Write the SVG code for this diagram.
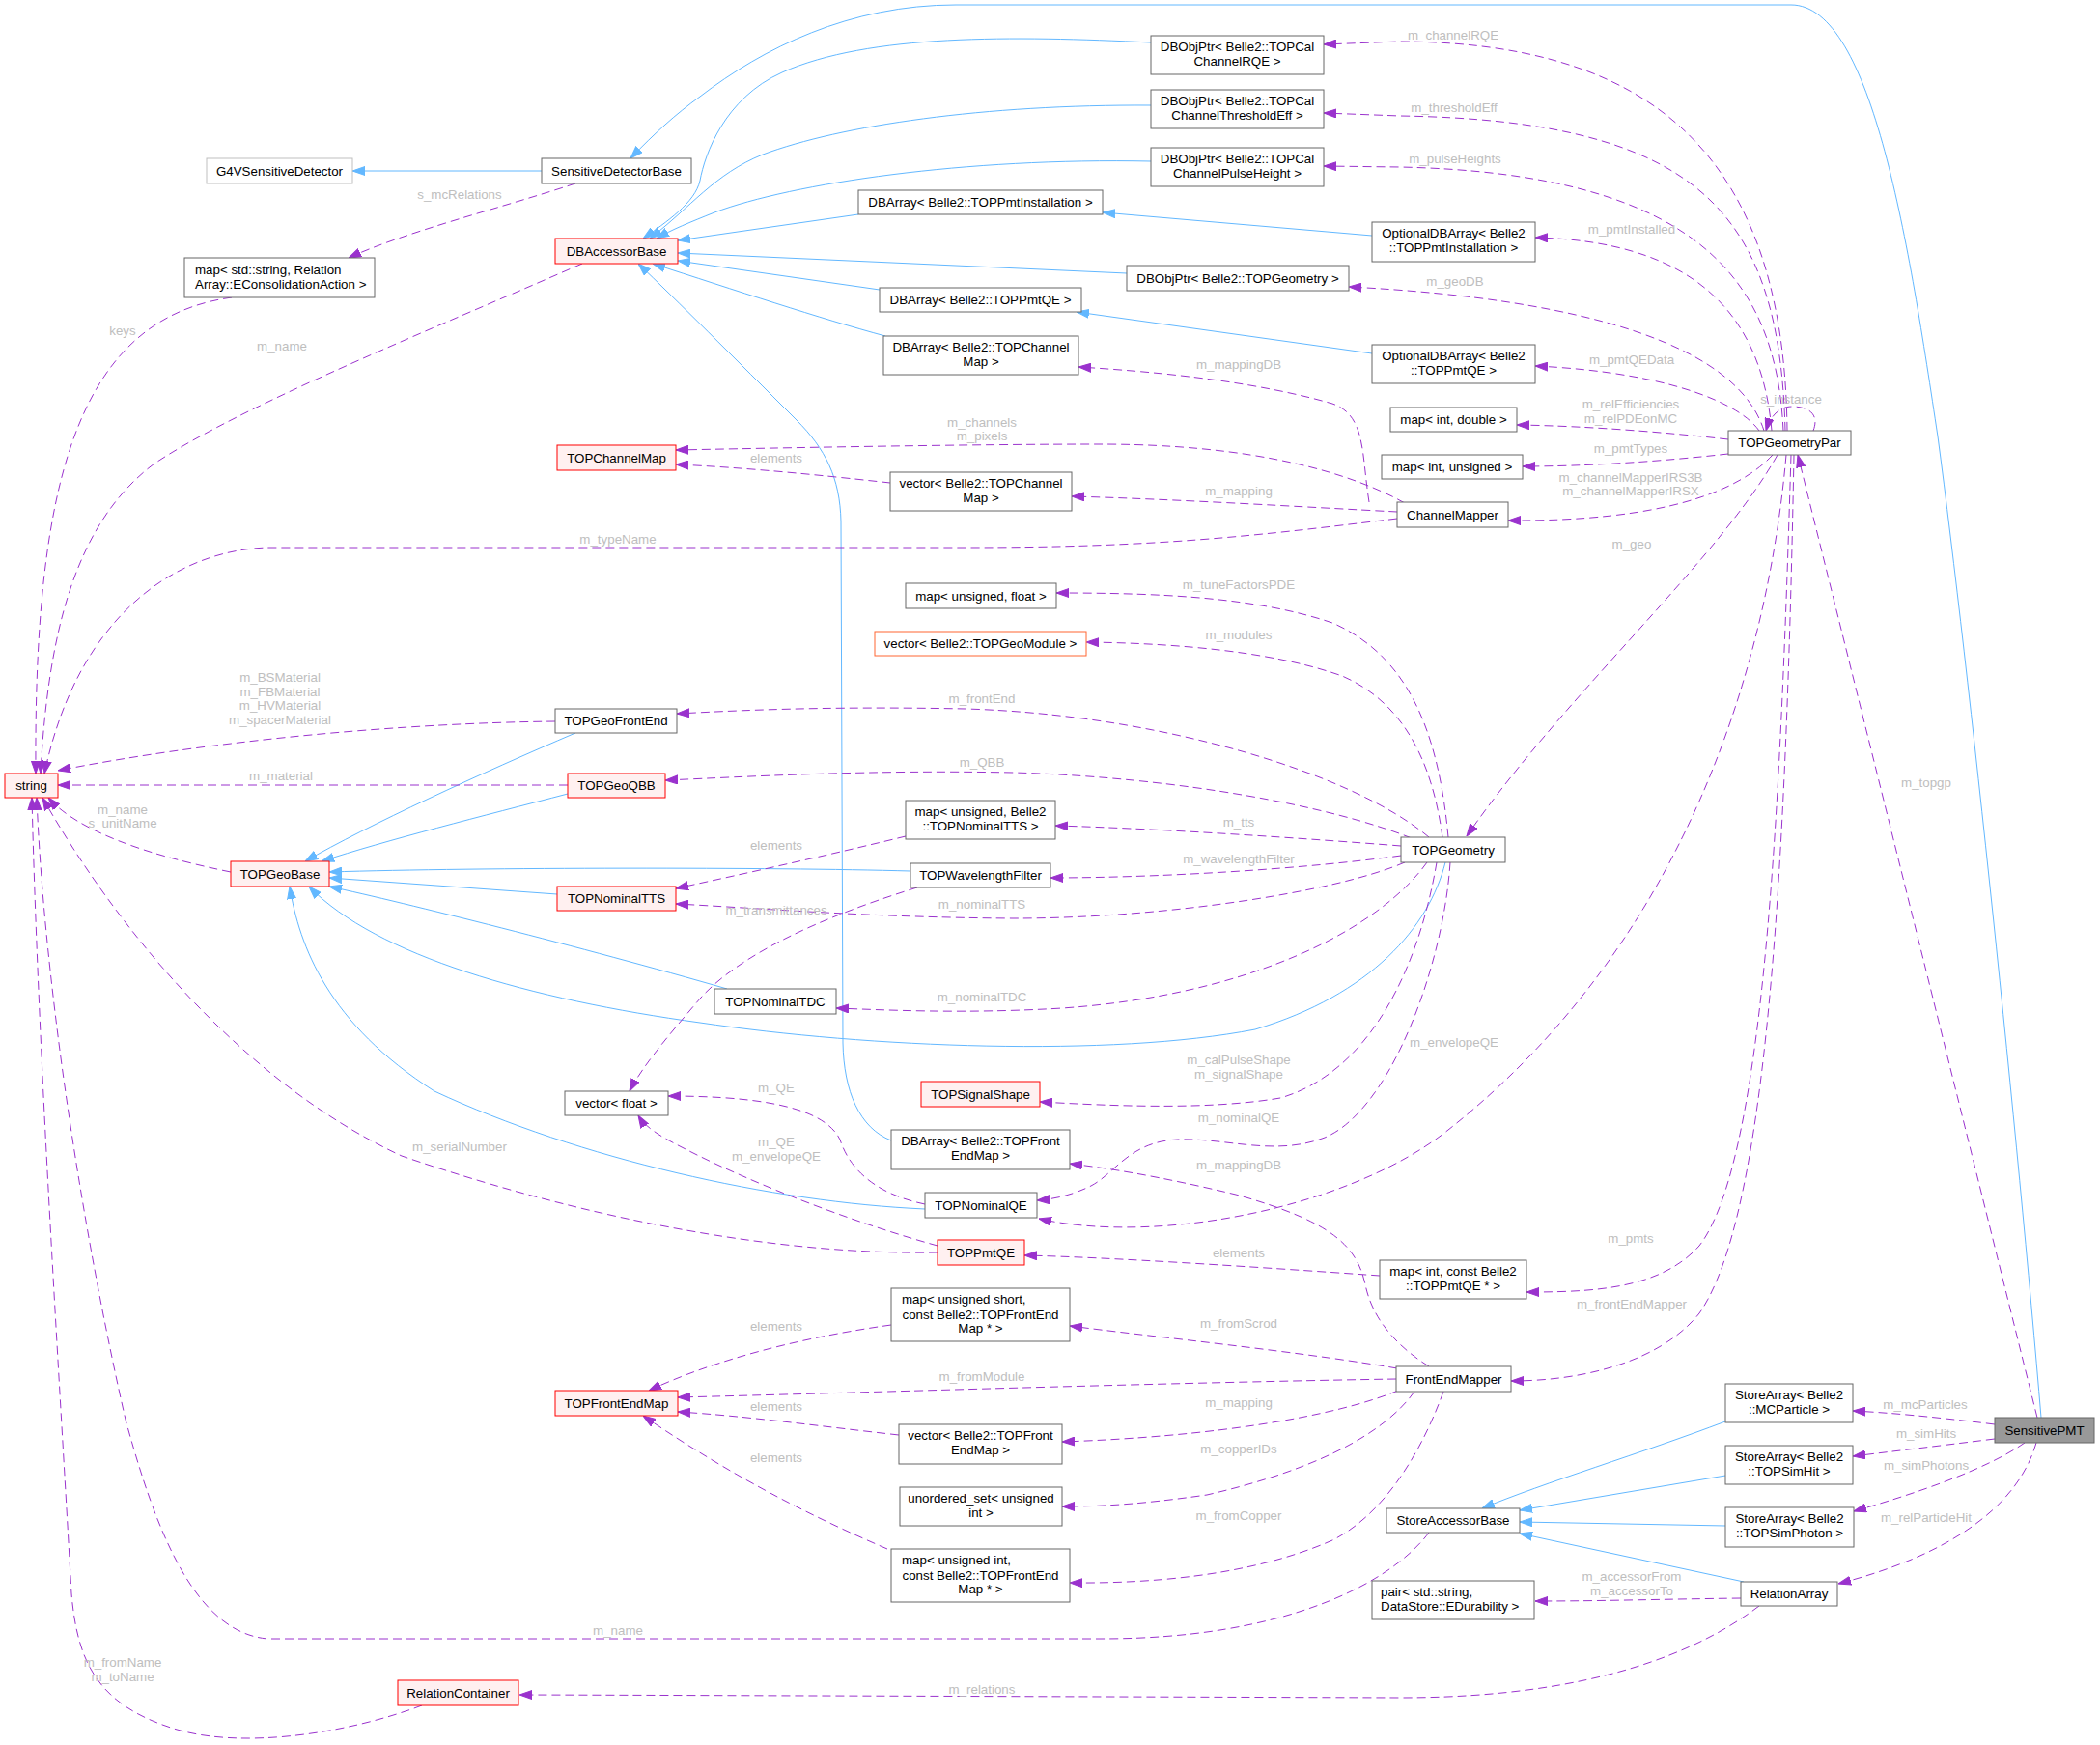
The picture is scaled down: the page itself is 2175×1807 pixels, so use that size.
<svg xmlns="http://www.w3.org/2000/svg" width="2175" height="1807" viewBox="0 0 2175 1807">
<defs>
<style>
.node rect{fill:#fff;stroke:#666;stroke-width:1}
.node.red rect{fill:#fff0f0;stroke:#ff0000}
.node.orange rect{stroke:#ff6633}
.node.light rect{stroke:#bfbfbf}
.node.cur rect{fill:#999}
text{font-family:"Liberation Sans",Arial,Helvetica,sans-serif;font-size:13.33px}
.node text{text-anchor:middle;fill:#000}
.node text.l{text-anchor:start}
.lbl{text-anchor:middle;fill:#bebebe}
.inh{fill:none;stroke:#63b8ff;stroke-width:1;marker-end:url(#ab)}
.use{fill:none;stroke:#9a32cd;stroke-width:1;stroke-dasharray:9,5;marker-end:url(#ap)}
</style>
<marker id="ap" viewBox="0 0 13 10" refX="13" refY="5" markerWidth="13" markerHeight="10" orient="auto" markerUnits="userSpaceOnUse"><path d="M0,0.5 L13,5 L0,9.5 z" fill="#9a32cd" stroke="#9a32cd" stroke-width="1"/></marker>
<marker id="ab" viewBox="0 0 13 10" refX="13" refY="5" markerWidth="13" markerHeight="10" orient="auto" markerUnits="userSpaceOnUse"><path d="M0,0.5 L13,5 L0,9.5 z" fill="#63b8ff" stroke="#63b8ff" stroke-width="1"/></marker>
</defs>
<rect width="2175" height="1807" fill="#fff"/>
<g id="connectors">
<path class="inh" d="M2114,1468 C2090,1180 2040,700 2007,452 C1978,260 1940,5 1855,5 L990,5 C880,5 790,50 725,100 C700,118 678,138 653,164"/>
<path class="inh" d="M561,177 L365,177"/>
<path class="inh" d="M1192,44 C1050,37 900,35 810,75 C750,102 730,160 725,187 C720,210 690,230 666,247"/>
<path class="inh" d="M1192,109 C1020,108 870,130 790,160 C740,180 715,215 673,247"/>
<path class="inh" d="M1192,167 C1000,163 820,190 740,220 C715,230 695,238 680,247"/>
<path class="inh" d="M889,222 L702,249"/>
<path class="inh" d="M1167,283 L702,262"/>
<path class="inh" d="M911,300 L702,270"/>
<path class="inh" d="M917,348 C850,330 760,300 676,273"/>
<path class="inh" d="M923,1181 C890,1168 874,1130 873,1080 L871,540 C870,495 855,465 825,435 C760,370 700,310 661,273"/>
<path class="inh" d="M1421,244 L1142,220"/>
<path class="inh" d="M1421,366 L1115,323"/>
<path class="inh" d="M596,759 C500,800 380,855 316,892"/>
<path class="inh" d="M588,822 C500,845 400,870 333,892"/>
<path class="inh" d="M577,926 L341,909"/>
<path class="inh" d="M943,902 C800,898 500,898 341,903"/>
<path class="inh" d="M753,1024 C600,980 420,935 341,918"/>
<path class="inh" d="M1497,893 C1480,960 1420,1030 1300,1066 C1150,1095 900,1085 725,1059 C550,1035 390,990 320,918"/>
<path class="inh" d="M958,1252 C800,1245 600,1200 450,1130 C340,1060 310,980 300,918"/>
<path class="inh" d="M1787,1472 C1700,1505 1600,1535 1535,1562"/>
<path class="inh" d="M1787,1528 L1574,1564"/>
<path class="inh" d="M1787,1580 L1574,1576"/>
<path class="inh" d="M1806,1638 L1574,1588"/>

<path class="use" d="M1851,446 C1848,150 1700,44 1450,43 L1371,46"/>
<path class="use" d="M1849,446 C1843,220 1760,125 1450,120 L1371,117"/>
<path class="use" d="M1847,446 C1840,300 1770,180 1450,173 L1371,172"/>
<path class="use" d="M1835,446 C1825,330 1760,250 1590,246"/>
<path class="use" d="M1827,446 C1800,360 1650,310 1397,297"/>
<path class="use" d="M1822,446 C1800,415 1720,385 1590,379"/>
<path class="use" d="M1790,455 C1720,447 1640,441 1571,440"/>
<path class="use" d="M1878,446 C1885,428 1872,421 1856,421 C1842,421 1833,432 1829,446"/>
<path class="use" d="M1790,470 C1720,478 1640,483 1577,483"/>
<path class="use" d="M1836,471 C1800,510 1720,540 1562,539"/>
<path class="use" d="M1841,471 C1780,580 1620,720 1519,866"/>
<path class="use" d="M1850,471 C1830,700 1740,980 1500,1170 C1400,1250 1200,1290 1076,1262"/>
<path class="use" d="M1855,471 C1845,800 1830,1200 1760,1290 C1720,1335 1650,1338 1581,1338"/>
<path class="use" d="M1858,471 C1850,900 1830,1260 1760,1360 C1720,1410 1640,1430 1565,1430"/>
<path class="use" d="M2110,1468 L1862,471"/>
<path class="use" d="M2066,1475 C2010,1468 1960,1463 1919,1461"/>
<path class="use" d="M2066,1490 C2010,1497 1960,1503 1919,1508"/>
<path class="use" d="M2097,1494 C2060,1520 1990,1545 1920,1565"/>
<path class="use" d="M2109,1494 C2090,1560 2020,1610 1904,1640"/>
<path class="use" d="M1803,1655 C1720,1656 1660,1658 1590,1658"/>
<path class="use" d="M1822,1663 C1760,1710 1650,1758 1450,1758 L538,1755"/>
<path class="use" d="M1480,1587 C1440,1640 1330,1697 1141,1697 L277,1697 C200,1690 160,1580 130,1470 C80,1250 45,1000 38,826"/>
<path class="use" d="M437,1766 C360,1795 250,1812 180,1790 C100,1765 80,1720 74,1650 C60,1400 40,1100 33,826"/>
<path class="use" d="M971,1297 C800,1300 600,1260 416,1197 C250,1120 120,960 44,826"/>
<path class="use" d="M239,903 C150,885 80,860 50,826"/>
<path class="use" d="M588,813 L60,813"/>
<path class="use" d="M575,747 C400,749 200,770 60,798"/>
<path class="use" d="M1447,537 C1300,555 1200,567 1000,567 L277,567 C180,570 80,640 46,801"/>
<path class="use" d="M603,273 C450,340 250,420 160,480 C80,540 50,650 42,801"/>
<path class="use" d="M240,308 C80,330 35,500 37,801"/>
<path class="use" d="M596,190 C520,215 420,240 361,267"/>
<path class="use" d="M1455,521 C1400,490 1300,460 1140,460 C1000,460 800,464 700,466"/>
<path class="use" d="M922,500 C850,492 770,484 700,481"/>
<path class="use" d="M1447,530 C1350,525 1220,517 1110,514"/>
<path class="use" d="M1418,520 C1410,470 1415,430 1380,418 C1300,395 1200,385 1117,380"/>
<path class="use" d="M1500,867 C1490,760 1460,680 1380,645 C1300,618 1200,614 1094,614"/>
<path class="use" d="M1494,867 C1485,800 1460,730 1390,700 C1320,675 1220,666 1125,665"/>
<path class="use" d="M1480,867 C1400,800 1200,740 1000,734 C850,731 760,736 701,739"/>
<path class="use" d="M1462,868 C1380,835 1220,805 1050,800 C900,797 780,804 689,808"/>
<path class="use" d="M1451,876 C1350,868 1200,858 1093,855"/>
<path class="use" d="M1451,886 C1350,900 1200,909 1088,909"/>
<path class="use" d="M1455,893 C1380,925 1200,951 1049,951 C900,950 780,940 700,936"/>
<path class="use" d="M1478,893 C1430,960 1300,1030 1100,1044 C1000,1050 920,1046 866,1044"/>
<path class="use" d="M1488,893 C1470,1000 1420,1110 1326,1137 C1250,1150 1150,1145 1077,1141"/>
<path class="use" d="M1502,893 C1495,1000 1440,1150 1372,1178 C1320,1198 1270,1178 1220,1180 C1170,1182 1155,1215 1130,1228 C1110,1238 1090,1242 1074,1243"/>
<path class="use" d="M958,1247 C900,1235 878,1205 870,1180 C855,1150 800,1135 692,1135"/>
<path class="use" d="M971,1290 C880,1265 780,1225 720,1195 C690,1180 670,1170 661,1155"/>
<path class="use" d="M950,919 C850,950 760,990 720,1040 C690,1075 665,1105 652,1130"/>
<path class="use" d="M938,866 C860,885 770,905 700,920"/>
<path class="use" d="M1429,1321 C1300,1312 1150,1302 1061,1300"/>
<path class="use" d="M1480,1415 C1440,1390 1420,1360 1414,1330 C1405,1290 1380,1265 1280,1237 C1200,1218 1150,1210 1108,1205"/>
<path class="use" d="M1447,1417 C1350,1400 1200,1385 1108,1373"/>
<path class="use" d="M1446,1428 C1200,1432 900,1442 702,1447"/>
<path class="use" d="M1448,1440 C1380,1468 1250,1488 1100,1493"/>
<path class="use" d="M1465,1441 C1430,1490 1350,1525 1250,1548 C1180,1558 1140,1560 1100,1560"/>
<path class="use" d="M1495,1441 C1470,1510 1430,1570 1380,1595 C1300,1630 1200,1640 1108,1639"/>
<path class="use" d="M923,1372 C830,1385 740,1408 672,1440"/>
<path class="use" d="M931,1486 C850,1477 770,1466 702,1462"/>
<path class="use" d="M919,1604 C840,1570 760,1530 666,1466"/>
<g id="edge-labels">
<text class="lbl" x="476" y="206">s_mcRelations</text>
<text class="lbl" x="127" y="347">keys</text>
<text class="lbl" x="292" y="363">m_name</text>
<text class="lbl" x="1505" y="41">m_channelRQE</text>
<text class="lbl" x="1506" y="116">m_thresholdEff</text>
<text class="lbl" x="1507" y="169">m_pulseHeights</text>
<text class="lbl" x="1690" y="242">m_pmtInstalled</text>
<text class="lbl" x="1507" y="296">m_geoDB</text>
<text class="lbl" x="1690" y="377">m_pmtQEData</text>
<text class="lbl" x="1689" y="423">m_relEfficiencies</text>
<text class="lbl" x="1689" y="438">m_relPDEonMC</text>
<text class="lbl" x="1855" y="418">s_instance</text>
<text class="lbl" x="1283" y="382">m_mappingDB</text>
<text class="lbl" x="1017" y="442">m_channels</text>
<text class="lbl" x="1017" y="456">m_pixels</text>
<text class="lbl" x="804" y="479">elements</text>
<text class="lbl" x="1283" y="513">m_mapping</text>
<text class="lbl" x="1689" y="469">m_pmtTypes</text>
<text class="lbl" x="1689" y="499">m_channelMapperIRS3B</text>
<text class="lbl" x="1689" y="513">m_channelMapperIRSX</text>
<text class="lbl" x="640" y="563">m_typeName</text>
<text class="lbl" x="1690" y="568">m_geo</text>
<text class="lbl" x="1283" y="610">m_tuneFactorsPDE</text>
<text class="lbl" x="1283" y="662">m_modules</text>
<text class="lbl" x="290" y="706">m_BSMaterial</text>
<text class="lbl" x="290" y="721">m_FBMaterial</text>
<text class="lbl" x="290" y="735">m_HVMaterial</text>
<text class="lbl" x="290" y="750">m_spacerMaterial</text>
<text class="lbl" x="1017" y="728">m_frontEnd</text>
<text class="lbl" x="1017" y="794">m_QBB</text>
<text class="lbl" x="291" y="808">m_material</text>
<text class="lbl" x="1995" y="815">m_topgp</text>
<text class="lbl" x="127" y="843">m_name</text>
<text class="lbl" x="127" y="857">s_unitName</text>
<text class="lbl" x="1283" y="856">m_tts</text>
<text class="lbl" x="804" y="880">elements</text>
<text class="lbl" x="1283" y="894">m_wavelengthFilter</text>
<text class="lbl" x="1017" y="941">m_nominalTTS</text>
<text class="lbl" x="804" y="947">m_transmittances</text>
<text class="lbl" x="1017" y="1037">m_nominalTDC</text>
<text class="lbl" x="1506" y="1084">m_envelopeQE</text>
<text class="lbl" x="1283" y="1102">m_calPulseShape</text>
<text class="lbl" x="1283" y="1117">m_signalShape</text>
<text class="lbl" x="804" y="1131">m_QE</text>
<text class="lbl" x="1283" y="1162">m_nominalQE</text>
<text class="lbl" x="804" y="1187">m_QE</text>
<text class="lbl" x="804" y="1202">m_envelopeQE</text>
<text class="lbl" x="476" y="1192">m_serialNumber</text>
<text class="lbl" x="1283" y="1211">m_mappingDB</text>
<text class="lbl" x="1689" y="1287">m_pmts</text>
<text class="lbl" x="1283" y="1302">elements</text>
<text class="lbl" x="1690" y="1355">m_frontEndMapper</text>
<text class="lbl" x="1283" y="1375">m_fromScrod</text>
<text class="lbl" x="804" y="1378">elements</text>
<text class="lbl" x="1017" y="1430">m_fromModule</text>
<text class="lbl" x="1283" y="1457">m_mapping</text>
<text class="lbl" x="1994" y="1459">m_mcParticles</text>
<text class="lbl" x="804" y="1461">elements</text>
<text class="lbl" x="1995" y="1489">m_simHits</text>
<text class="lbl" x="1283" y="1505">m_copperIDs</text>
<text class="lbl" x="804" y="1514">elements</text>
<text class="lbl" x="1995" y="1522">m_simPhotons</text>
<text class="lbl" x="1283" y="1574">m_fromCopper</text>
<text class="lbl" x="1995" y="1576">m_relParticleHit</text>
<text class="lbl" x="1690" y="1637">m_accessorFrom</text>
<text class="lbl" x="1690" y="1652">m_accessorTo</text>
<text class="lbl" x="640" y="1693">m_name</text>
<text class="lbl" x="127" y="1726">m_fromName</text>
<text class="lbl" x="127" y="1741">m_toName</text>
<text class="lbl" x="1017" y="1754">m_relations</text>
</g>
</g>
<g id="nodes">
<g id="G4VSensitiveDetector" class="node light"><rect x="214" y="164" width="151" height="26"/><text x="289.5" y="181.5">G4VSensitiveDetector</text></g>
<g id="SensitiveDetectorBase" class="node"><rect x="561" y="164" width="155" height="26"/><text x="638.5" y="181.5">SensitiveDetectorBase</text></g>
<g id="mapStringRelation" class="node"><rect x="191" y="267" width="197" height="41"/><text class="l" x="202" y="284">map&lt; std::string, Relation</text><text class="l" x="202" y="299">Array::EConsolidationAction &gt;</text></g>
<g id="DBAccessorBase" class="node red"><rect x="575" y="247" width="127" height="26"/><text x="638.5" y="264.5">DBAccessorBase</text></g>
<g id="DBObjPtrChannelRQE" class="node"><rect x="1192" y="37" width="179" height="40"/><text x="1281.5" y="53">DBObjPtr&lt; Belle2::TOPCal</text><text x="1281.5" y="68">ChannelRQE &gt;</text></g>
<g id="DBObjPtrChannelThresholdEff" class="node"><rect x="1192" y="93" width="179" height="40"/><text x="1281.5" y="109">DBObjPtr&lt; Belle2::TOPCal</text><text x="1281.5" y="124">ChannelThresholdEff &gt;</text></g>
<g id="DBObjPtrChannelPulseHeight" class="node"><rect x="1192" y="153" width="179" height="40"/><text x="1281.5" y="169">DBObjPtr&lt; Belle2::TOPCal</text><text x="1281.5" y="184">ChannelPulseHeight &gt;</text></g>
<g id="DBArrayPmtInstallation" class="node"><rect x="889" y="197" width="253" height="25"/><text x="1015.5" y="214">DBArray&lt; Belle2::TOPPmtInstallation &gt;</text></g>
<g id="OptionalDBArrayPmtInstallation" class="node"><rect x="1421" y="230" width="169" height="41"/><text x="1505.5" y="246">OptionalDBArray&lt; Belle2</text><text x="1505.5" y="261">::TOPPmtInstallation &gt;</text></g>
<g id="DBObjPtrTOPGeometry" class="node"><rect x="1167" y="275" width="230" height="26"/><text x="1282" y="292.5">DBObjPtr&lt; Belle2::TOPGeometry &gt;</text></g>
<g id="DBArrayPmtQE" class="node"><rect x="911" y="298" width="209" height="25"/><text x="1015.5" y="315">DBArray&lt; Belle2::TOPPmtQE &gt;</text></g>
<g id="DBArrayChannelMap" class="node"><rect x="915" y="348" width="202" height="40"/><text x="1016" y="364">DBArray&lt; Belle2::TOPChannel</text><text x="1016" y="379">Map &gt;</text></g>
<g id="OptionalDBArrayPmtQE" class="node"><rect x="1421" y="357" width="169" height="40"/><text x="1505.5" y="373">OptionalDBArray&lt; Belle2</text><text x="1505.5" y="388">::TOPPmtQE &gt;</text></g>
<g id="mapIntDouble" class="node"><rect x="1440" y="422" width="131" height="25"/><text x="1505.5" y="439">map&lt; int, double &gt;</text></g>
<g id="TOPGeometryPar" class="node"><rect x="1790" y="446" width="127" height="25"/><text x="1853.5" y="463">TOPGeometryPar</text></g>
<g id="TOPChannelMap" class="node red"><rect x="577" y="461" width="123" height="26"/><text x="638.5" y="478.5">TOPChannelMap</text></g>
<g id="mapIntUnsigned" class="node"><rect x="1431" y="471" width="146" height="25"/><text x="1504" y="488">map&lt; int, unsigned &gt;</text></g>
<g id="vectorChannelMap" class="node"><rect x="922" y="489" width="188" height="40"/><text x="1016" y="505">vector&lt; Belle2::TOPChannel</text><text x="1016" y="520">Map &gt;</text></g>
<g id="ChannelMapper" class="node"><rect x="1447" y="520" width="115" height="26"/><text x="1504.5" y="537.5">ChannelMapper</text></g>
<g id="mapUnsignedFloat" class="node"><rect x="938" y="604" width="156" height="26"/><text x="1016" y="621.5">map&lt; unsigned, float &gt;</text></g>
<g id="vectorGeoModule" class="node orange"><rect x="906" y="654" width="219" height="25"/><text x="1015.5" y="671">vector&lt; Belle2::TOPGeoModule &gt;</text></g>
<g id="TOPGeoFrontEnd" class="node"><rect x="575" y="734" width="126" height="25"/><text x="638" y="751">TOPGeoFrontEnd</text></g>
<g id="string" class="node red"><rect x="5" y="801" width="55" height="25"/><text x="32.5" y="818">string</text></g>
<g id="TOPGeoQBB" class="node red"><rect x="588" y="801" width="101" height="25"/><text x="638.5" y="818">TOPGeoQBB</text></g>
<g id="mapUnsignedNominalTTS" class="node"><rect x="938" y="829" width="155" height="40"/><text x="1015.5" y="845">map&lt; unsigned, Belle2</text><text x="1015.5" y="860">::TOPNominalTTS &gt;</text></g>
<g id="TOPGeometry" class="node"><rect x="1451" y="867" width="108" height="26"/><text x="1505" y="884.5">TOPGeometry</text></g>
<g id="TOPGeoBase" class="node red"><rect x="239" y="892" width="102" height="26"/><text x="290" y="909.5">TOPGeoBase</text></g>
<g id="TOPWavelengthFilter" class="node"><rect x="943" y="894" width="145" height="25"/><text x="1015.5" y="911">TOPWavelengthFilter</text></g>
<g id="TOPNominalTTS" class="node red"><rect x="577" y="918" width="123" height="25"/><text x="638.5" y="935">TOPNominalTTS</text></g>
<g id="TOPNominalTDC" class="node"><rect x="740" y="1024" width="126" height="26"/><text x="803" y="1041.5">TOPNominalTDC</text></g>
<g id="vectorFloat" class="node"><rect x="585" y="1130" width="107" height="25"/><text x="638.5" y="1147">vector&lt; float &gt;</text></g>
<g id="TOPSignalShape" class="node red"><rect x="954" y="1120" width="123" height="26"/><text x="1015.5" y="1137.5">TOPSignalShape</text></g>
<g id="DBArrayFrontEndMap" class="node"><rect x="923" y="1170" width="185" height="41"/><text x="1015.5" y="1186">DBArray&lt; Belle2::TOPFront</text><text x="1015.5" y="1201">EndMap &gt;</text></g>
<g id="TOPNominalQE" class="node"><rect x="958" y="1235" width="116" height="26"/><text x="1016" y="1252.5">TOPNominalQE</text></g>
<g id="TOPPmtQE" class="node red"><rect x="971" y="1284" width="90" height="26"/><text x="1016" y="1301.5">TOPPmtQE</text></g>
<g id="mapIntPmtQE" class="node"><rect x="1429" y="1305" width="152" height="40"/><text x="1505" y="1321">map&lt; int, const Belle2</text><text x="1505" y="1336">::TOPPmtQE * &gt;</text></g>
<g id="mapUnsignedShortFrontEndMap" class="node"><rect x="923" y="1334" width="185" height="55"/><text class="l" x="934" y="1350">map&lt; unsigned short,</text><text x="1015.5" y="1365.5">const Belle2::TOPFrontEnd</text><text x="1015.5" y="1380">Map * &gt;</text></g>
<g id="FrontEndMapper" class="node"><rect x="1446" y="1415" width="119" height="26"/><text x="1505.5" y="1432.5">FrontEndMapper</text></g>
<g id="TOPFrontEndMap" class="node red"><rect x="575" y="1440" width="127" height="26"/><text x="638.5" y="1457.5">TOPFrontEndMap</text></g>
<g id="vectorFrontEndMap" class="node"><rect x="931" y="1475" width="169" height="41"/><text x="1015.5" y="1491">vector&lt; Belle2::TOPFront</text><text x="1015.5" y="1506">EndMap &gt;</text></g>
<g id="StoreArrayMCParticle" class="node"><rect x="1787" y="1433" width="132" height="40"/><text x="1853" y="1449">StoreArray&lt; Belle2</text><text x="1853" y="1464">::MCParticle &gt;</text></g>
<g id="SensitivePMT" class="node cur"><rect x="2066" y="1468" width="103" height="26"/><text x="2117.5" y="1485.5">SensitivePMT</text></g>
<g id="StoreArrayTOPSimHit" class="node"><rect x="1787" y="1497" width="132" height="40"/><text x="1853" y="1513">StoreArray&lt; Belle2</text><text x="1853" y="1528">::TOPSimHit &gt;</text></g>
<g id="unorderedSetUnsigned" class="node"><rect x="932" y="1540" width="168" height="40"/><text x="1016" y="1556">unordered_set&lt; unsigned</text><text x="1016" y="1571">int &gt;</text></g>
<g id="StoreArrayTOPSimPhoton" class="node"><rect x="1787" y="1561" width="133" height="41"/><text x="1853.5" y="1577">StoreArray&lt; Belle2</text><text x="1853.5" y="1592">::TOPSimPhoton &gt;</text></g>
<g id="StoreAccessorBase" class="node"><rect x="1436" y="1562" width="138" height="25"/><text x="1505" y="1579">StoreAccessorBase</text></g>
<g id="mapUnsignedIntFrontEndMap" class="node"><rect x="923" y="1604" width="185" height="55"/><text class="l" x="934" y="1620">map&lt; unsigned int,</text><text x="1015.5" y="1635.5">const Belle2::TOPFrontEnd</text><text x="1015.5" y="1650">Map * &gt;</text></g>
<g id="pairStringDurability" class="node"><rect x="1421" y="1637" width="168" height="40"/><text class="l" x="1430" y="1653">pair&lt; std::string,</text><text class="l" x="1430" y="1668">DataStore::EDurability &gt;</text></g>
<g id="RelationArray" class="node"><rect x="1803" y="1638" width="100" height="25"/><text x="1853" y="1655">RelationArray</text></g>
<g id="RelationContainer" class="node red"><rect x="412" y="1740" width="125" height="26"/><text x="474.5" y="1757.5">RelationContainer</text></g>
</g>
</svg>
